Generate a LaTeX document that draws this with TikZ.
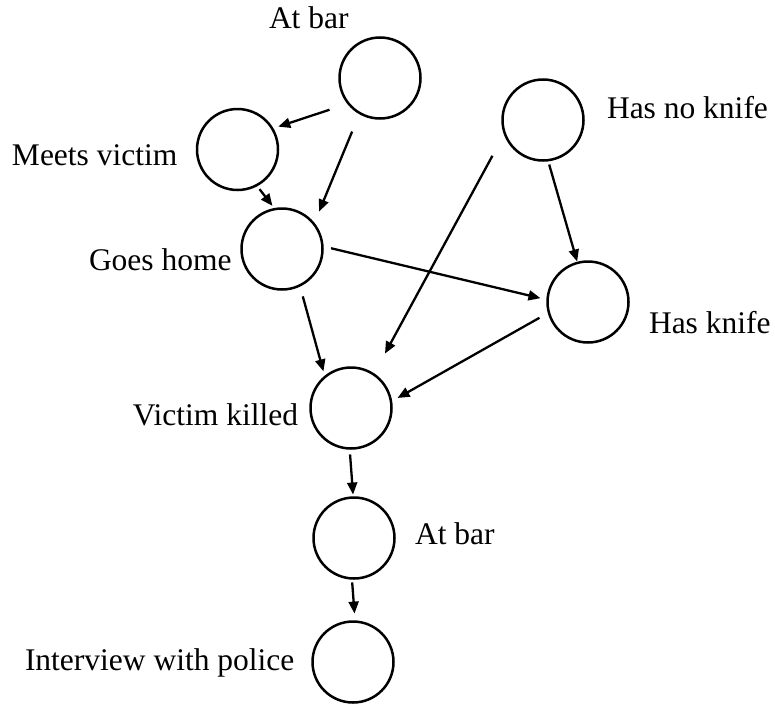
\documentclass[tikz,border=0pt]{standalone}
\usepackage{fontspec}
\setmainfont{Liberation Serif}
\usetikzlibrary{arrows.meta}
\begin{document}
\begin{tikzpicture}[x=1pt,y=-1pt,
  ev/.style={circle,draw,line width=2.5pt,minimum size=81pt,inner sep=0pt,outer sep=0pt},
  lab/.style={font=\fontsize{31.5}{36}\selectfont,inner sep=0pt,outer sep=0pt},
  arr/.style={line width=2.3pt,-{Triangle[length=12pt,width=10pt]}}]
\useasboundingbox (0,0) rectangle (775,704);
% events
\node[ev] (bar1)   at (380,78)    {};
\node[ev] (meets)  at (237.5,149.5) {};
\node[ev] (noknife) at (543,120)  {};
\node[ev] (home)   at (282,249)   {};
\node[ev] (knife)  at (588,302)   {};
\node[ev] (killed) at (351,408)   {};
\node[ev] (bar2)   at (354,538)   {};
\node[ev] (police) at (353,662)   {};
% labels
\node[lab,anchor=base west] (lbar1)   at (269,28)  {At bar};
\node[lab,anchor=base west] (lmeets)  at (12,165)  {Meets victim};
\node[lab,anchor=base west] (lnoknife) at (607,118) {Has no knife};
\node[lab,anchor=base west] (lhome)   at (89,270)  {Goes home};
\node[lab,anchor=base west] (lknife)  at (649,333) {Has knife};
\node[lab,anchor=base east] (lkilled) at (298,425) {Victim killed};
\node[lab,anchor=base west] (lbar2)   at (415,544) {At bar};
\node[lab,anchor=base west] (lpolice) at (25,670)  {Interview with police};
% connectors
\draw[arr,shorten <=20pt,shorten >=6.4pt]   (bar1.219)    -- (meets.31);
\draw[arr,shorten <=20pt,shorten >=13.6pt]  (bar1.240)    -- (home.38);
\draw[arr,shorten <=4.9pt,shorten >=4.1pt]  (meets.298)   -- (home.100);
\draw[arr,shorten <=11.4pt,shorten >=5.8pt] (home.296)    -- (killed.130);
\draw[arr,shorten <=25.7pt,shorten >=23.7pt] (noknife.199) -- (killed.56);
\draw[arr,shorten <=10.8pt,shorten >=7.5pt] (knife.195)   -- (killed.9);
\draw[arr,shorten <=8.9pt,shorten >=7.3pt]  (home.4)      -- (knife.177);
\draw[arr,shorten <=4.5pt,shorten >=1.4pt]  (noknife.277) -- (knife.105);
\draw[arr,shorten <=6pt,shorten >=3pt]      (killed.268)  -- (bar2.91);
\draw[arr,shorten <=4pt,shorten >=8pt]      (bar2.267)    -- (police.87);
\end{tikzpicture}
\end{document}
